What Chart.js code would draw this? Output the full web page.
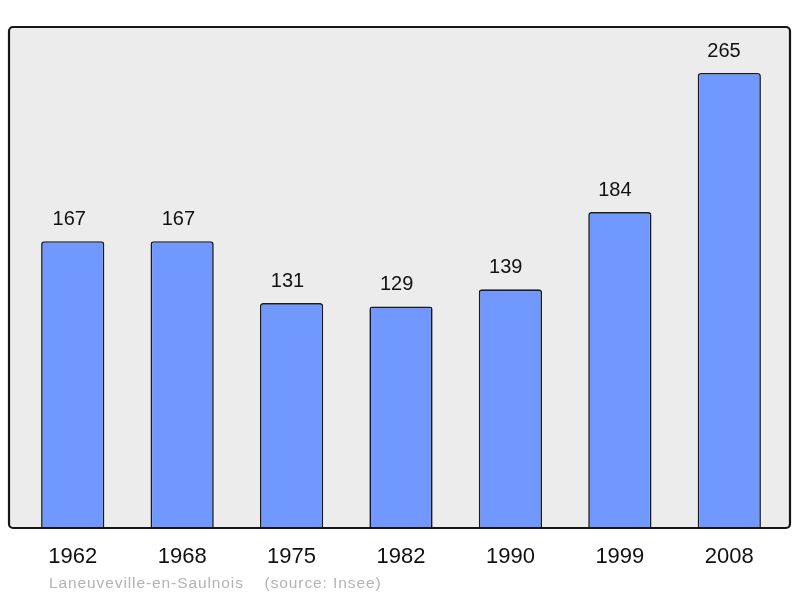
<!DOCTYPE html>
<html>
<head>
<meta charset="utf-8">
<script src="https://cdn.jsdelivr.net/npm/chart.js@4/dist/chart.umd.min.js"></script>
<style>
  html, body { margin: 0; padding: 0; background: #fff; }
  canvas { display: block; }
</style>
</head>
<body>
<canvas id="popChart" width="800" height="598"></canvas>
<script>
// Population data
const years = ['1962', '1968', '1975', '1982', '1990', '1999', '2008'];
const population = [167, 167, 131, 129, 139, 184, 265];
const yMax = 291.8;

const fontFamily = '"Liberation Sans", Arial, sans-serif';

// frame, tick labels, values and source line
const decorPlugin = {
    id: 'decor',
    beforeDraw(chart) {
        const ctx = chart.ctx;
        const area = chart.chartArea;
        ctx.save();
        ctx.fillStyle = '#ececec';
        ctx.beginPath();
        ctx.roundRect(9, area.top, 781, area.bottom - area.top, 4);
        ctx.fill();
        ctx.restore();
    },
    afterDatasetsDraw(chart) {
        const ctx = chart.ctx;
        const area = chart.chartArea;
        const meta = chart.getDatasetMeta(0);
        const xScale = chart.scales.x;
        ctx.save();
        // frame on top of the bars
        ctx.strokeStyle = '#161616';
        ctx.lineWidth = 2.2;
        ctx.beginPath();
        ctx.roundRect(9, area.top, 781, area.bottom - area.top, 4);
        ctx.stroke();

        ctx.textAlign = 'center';
        ctx.textBaseline = 'middle';
        ctx.fillStyle = '#111';
        ctx.font = '20px ' + fontFamily;
        meta.data.forEach((bar, i) => {
            ctx.fillText(String(population[i]), bar.x - 3.5 - 0.3 * i, bar.y - 22);
        });

        ctx.font = '22px ' + fontFamily;
        years.forEach((y, i) => {
            ctx.fillText(y, xScale.getPixelForTick(i), 557);
        });

        ctx.textAlign = 'left';
        ctx.fillStyle = '#b3b3b3';
        ctx.font = '15.5px ' + fontFamily;
        ctx.letterSpacing = '0.9px';
        ctx.fillText('Laneuveville-en-Saulnois    (source: Insee)', 49, 584);
        ctx.restore();
    }
};

new Chart(document.getElementById('popChart').getContext('2d'), {
    type: 'bar',
    data: {
        labels: years,
        datasets: [{
            data: population,
            backgroundColor: '#7098ff',
            borderColor: '#1a1a1a',
            borderWidth: 1.6,
            borderRadius: 3,
            borderSkipped: 'bottom',
            barPercentage: 0.578,
            categoryPercentage: 1
        }]
    },
    options: {
        responsive: false,
        animation: false,
        layout: { padding: { left: 18, right: 16, top: 27, bottom: 70 } },
        plugins: {
            legend: { display: false },
            tooltip: { enabled: false }
        },
        scales: {
            x: { display: false },
            y: { display: false, min: 0, max: yMax }
        }
    },
    plugins: [decorPlugin]
});
</script>
</body>
</html>
